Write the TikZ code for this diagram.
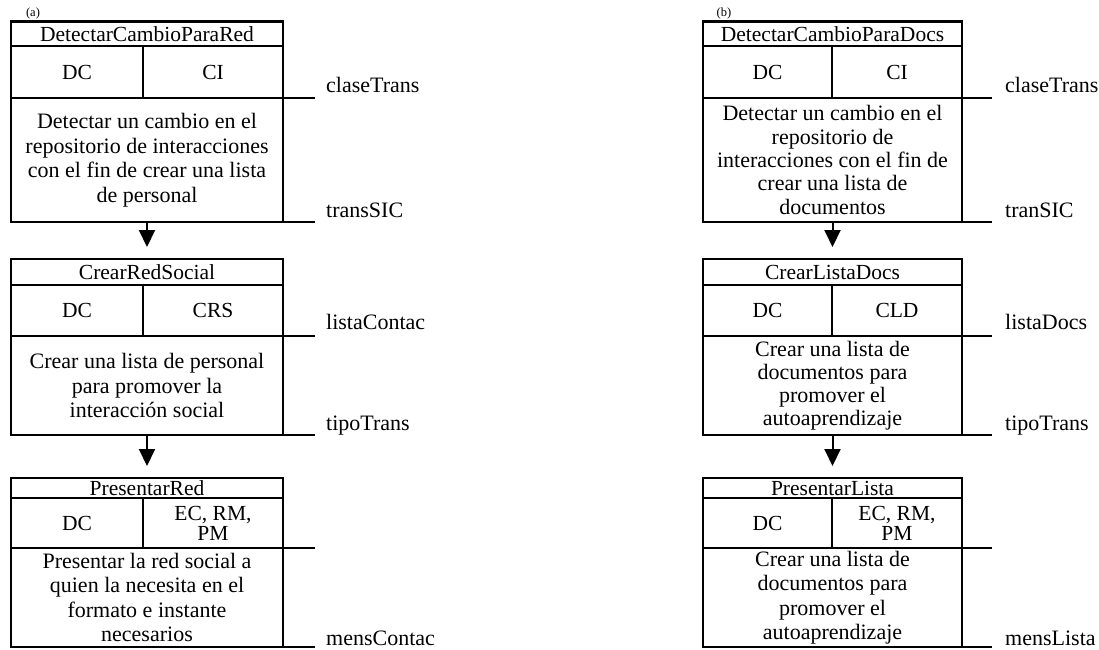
\documentclass[tikz,border=0pt]{standalone}
\usepackage{fontspec}
\setmainfont{Liberation Serif}
\usetikzlibrary{arrows.meta}
\newcommand{\cellfont}{\fontsize{22}{24.5}\selectfont}
\newcommand{\headfont}{\fontsize{21.5}{24}\selectfont}
\newcommand{\tagfont}{\fontsize{12.5}{14}\selectfont}
\tikzset{
  cell/.style={draw=black, line width=2.6pt, inner sep=0pt, outer sep=0pt,
    anchor=north west, align=center, font=\cellfont},
  head/.style={cell, font=\headfont},
  lbl/.style={anchor=base west, inner sep=0pt, font=\cellfont},
  tag/.style={inner sep=0pt, font=\tagfont},
  side/.style={line width=2.6pt},
  flow/.style={line width=2pt, -{Triangle[length=17pt,width=16pt]}, shorten >=12pt},
}
\begin{document}
\begin{tikzpicture}[x=1pt,y=-1pt]
\useasboundingbox (0,0) rectangle (1099,649);

% ---------------- column (a) ----------------
\node[tag] (taga) at (33,13) {(a)};

% DetectarCambioParaRed
\node[head, minimum width=272pt, minimum height=24.5pt] (a1t) at (11,21.5) {DetectarCambioParaRed};
\node[head, minimum width=132pt, minimum height=52pt] (a1l) at (11,46) {DC};
\node[head, minimum width=140pt, minimum height=52pt] (a1r) at (143,46) {CI};
\node[cell, minimum width=272pt, minimum height=124pt] (a1b) at (11,98)
  {Detectar un cambio en el\\repositorio de interacciones\\con el fin de crear una lista\\de personal};

% CrearRedSocial
\node[head, minimum width=272pt, minimum height=26pt] (a2t) at (11,259) {CrearRedSocial};
\node[head, minimum width=132pt, minimum height=51pt] (a2l) at (11,285) {DC};
\node[head, minimum width=140pt, minimum height=51pt] (a2r) at (143,285) {CRS};
\node[cell, minimum width=272pt, minimum height=99pt] (a2b) at (11,336)
  {Crear una lista de personal\\para promover la\\interacción social};

% PresentarRed
\node[head, minimum width=272pt, minimum height=20pt] (a3t) at (11,478) {PresentarRed};
\node[head, minimum width=132pt, minimum height=50pt] (a3l) at (11,498) {DC};
\node[head, minimum width=140pt, minimum height=50pt, font=\fontsize{21.5}{20}\selectfont] (a3r) at (143,498) {EC, RM,\\PM};
\node[cell, minimum width=272pt, minimum height=99pt] (a3b) at (11,548)
  {Presentar la red social a\\quien la necesita en el\\formato e instante\\necesarios};

% flow between the steps
\draw[flow] (a1b.south) -- (a2t.north);
\draw[flow] (a2b.south) -- (a3t.north);

% data lines and their names
\coordinate (a1s1) at (315,98);
\coordinate (a1s2) at (315,222);
\coordinate (a2s1) at (315,336);
\coordinate (a2s2) at (315,435);
\coordinate (a3s1) at (315,548);
\coordinate (a3s2) at (315,647);
\draw[side] (a1b.north east) -- (a1s1);
\draw[side] (a1b.south east) -- (a1s2);
\draw[side] (a2b.north east) -- (a2s1);
\draw[side] (a2b.south east) -- (a2s2);
\draw[side] (a3b.north east) -- (a3s1);
\draw[side] (a3b.south east) -- (a3s2);

\node[lbl] (a1n1) at (326,92) {claseTrans};
\node[lbl] (a1n2) at (326,217) {transSIC};
\node[lbl] (a2n1) at (326,329) {listaContac};
\node[lbl] (a2n2) at (326,430) {tipoTrans};
\node[lbl] (a3n2) at (326,645) {mensContac};

% ---------------- column (b) ----------------
\node[tag] (tagb) at (724,13) {(b)};

% DetectarCambioParaDocs
\node[head, minimum width=259pt, minimum height=24.5pt] (b1t) at (703,21.5) {DetectarCambioParaDocs};
\node[head, minimum width=129pt, minimum height=52pt] (b1l) at (703,46) {DC};
\node[head, minimum width=130pt, minimum height=52pt] (b1r) at (832,46) {CI};
\node[cell, minimum width=259pt, minimum height=124pt, font=\fontsize{22}{23.3}\selectfont] (b1b) at (703,98)
  {Detectar un cambio en el\\repositorio de\\interacciones con el fin de\\crear una lista de\\documentos};

% CrearListaDocs
\node[head, minimum width=259pt, minimum height=26pt] (b2t) at (703,259) {CrearListaDocs};
\node[head, minimum width=129pt, minimum height=51pt] (b2l) at (703,285) {DC};
\node[head, minimum width=130pt, minimum height=51pt] (b2r) at (832,285) {CLD};
\node[cell, minimum width=259pt, minimum height=99pt, font=\fontsize{22}{22.8}\selectfont] (b2b) at (703,336)
  {Crear una lista de\\documentos para\\promover el\\autoaprendizaje};

% PresentarLista
\node[head, minimum width=259pt, minimum height=20pt] (b3t) at (703,478) {PresentarLista};
\node[head, minimum width=129pt, minimum height=50pt] (b3l) at (703,498) {DC};
\node[head, minimum width=130pt, minimum height=50pt, font=\fontsize{21.5}{20}\selectfont] (b3r) at (832,498) {EC, RM,\\PM};
\node[cell, minimum width=259pt, minimum height=99pt] (b3b) at (703,548)
  {Crear una lista de\\documentos para\\promover el\\autoaprendizaje};

\draw[flow] (b1b.south) -- (b2t.north);
\draw[flow] (b2b.south) -- (b3t.north);

\coordinate (b1s1) at (992,98);
\coordinate (b1s2) at (992,222);
\coordinate (b2s1) at (992,336);
\coordinate (b2s2) at (992,435);
\coordinate (b3s1) at (992,548);
\coordinate (b3s2) at (992,647);
\draw[side] (b1b.north east) -- (b1s1);
\draw[side] (b1b.south east) -- (b1s2);
\draw[side] (b2b.north east) -- (b2s1);
\draw[side] (b2b.south east) -- (b2s2);
\draw[side] (b3b.north east) -- (b3s1);
\draw[side] (b3b.south east) -- (b3s2);

\node[lbl] (b1n1) at (1005,92) {claseTrans};
\node[lbl] (b1n2) at (1005,217) {tranSIC};
\node[lbl] (b2n1) at (1005,329) {listaDocs};
\node[lbl] (b2n2) at (1005,430) {tipoTrans};
\node[lbl] (b3n2) at (1005,645) {mensLista};
\end{tikzpicture}
\end{document}
